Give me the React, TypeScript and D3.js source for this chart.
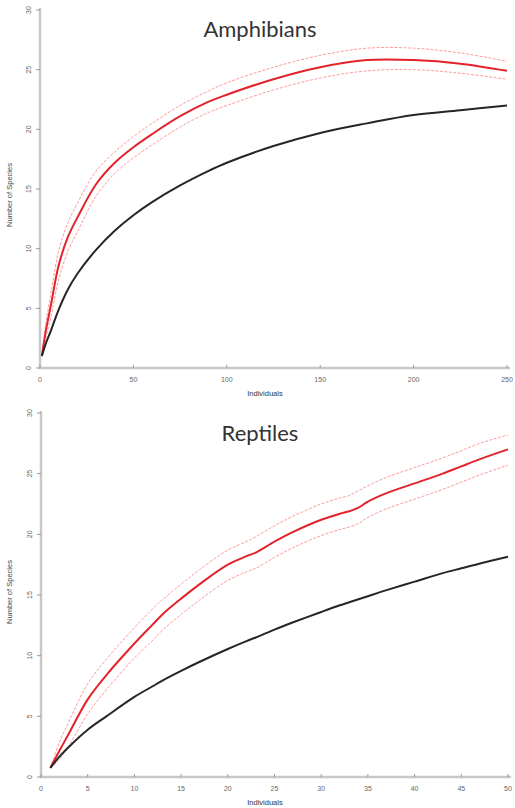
import React from "react";
import * as d3 from "d3";

// ---------- Data ----------
const ampX = [1, 3, 6, 10, 15, 20, 30, 40, 50, 60, 75, 90, 100, 125, 150, 175, 200, 225, 250];
const ampExpected = [1.0, 2.0, 3.2, 4.9, 6.6, 7.9, 9.9, 11.5, 12.8, 13.9, 15.3, 16.5, 17.2, 18.6, 19.7, 20.5, 21.2, 21.6, 22.0];
const ampMean = [1.0, 3.0, 5.4, 8.6, 11.0, 12.6, 15.4, 17.2, 18.5, 19.6, 21.1, 22.3, 22.9, 24.2, 25.2, 25.8, 25.8, 25.5, 24.9];
const ampUpper = [1.0, 3.6, 6.4, 9.8, 12.2, 13.8, 16.5, 18.1, 19.4, 20.5, 22.0, 23.2, 23.9, 25.2, 26.2, 26.8, 26.8, 26.4, 25.7];
const ampLower = [1.0, 2.4, 4.4, 7.4, 9.8, 11.4, 14.4, 16.3, 17.6, 18.7, 20.2, 21.4, 22.0, 23.3, 24.3, 24.9, 25.0, 24.7, 24.2];

const repX = [1, 2, 3, 5, 7, 10, 12, 13, 15, 17, 20, 22, 23, 25, 27, 30, 32, 33, 34, 35, 37, 40, 43, 45, 47, 50];
const repExpected = [0.75, 1.7, 2.5, 3.9, 5.0, 6.6, 7.5, 7.95, 8.75, 9.5, 10.55, 11.2, 11.5, 12.15, 12.75, 13.6, 14.15, 14.4, 14.65, 14.9, 15.4, 16.1, 16.8, 17.2, 17.6, 18.15];
const repMean = [0.75, 2.2, 3.6, 6.4, 8.4, 11.0, 12.6, 13.4, 14.7, 15.9, 17.5, 18.2, 18.5, 19.4, 20.2, 21.2, 21.7, 21.9, 22.2, 22.7, 23.4, 24.2, 25.0, 25.6, 26.2, 27.0];
const repUpper = [0.75, 2.9, 4.6, 7.7, 9.7, 12.3, 13.9, 14.6, 15.9, 17.1, 18.7, 19.4, 19.8, 20.7, 21.5, 22.5, 23.0, 23.2, 23.6, 24.0, 24.7, 25.5, 26.3, 26.9, 27.5, 28.2];
const repLower = [0.75, 1.5, 2.6, 5.2, 7.2, 9.8, 11.3, 12.1, 13.4, 14.6, 16.2, 16.9, 17.2, 18.1, 18.9, 19.9, 20.4, 20.6, 20.9, 21.4, 22.1, 22.9, 23.7, 24.3, 24.9, 25.7];

const ampXTicks = [0, 50, 100, 150, 200, 250];
const repXTicks = [0, 5, 10, 15, 20, 25, 30, 35, 40, 45, 50];
const yTicks = [0, 5, 10, 15, 20, 25, 30];

type PanelProps = {
  title: string;
  titleX: number;
  titleY: number;
  xs: number[];
  expected: number[];
  mean: number[];
  upper: number[];
  lower: number[];
  xDomain: [number, number];
  xRange: [number, number];
  yRange: [number, number];
  xTicks: number[];
  yLabelY: number;
  xLabelY: number;
};

function Panel(p: PanelProps) {
  const x = d3.scaleLinear().domain(p.xDomain).range(p.xRange);
  const y = d3.scaleLinear().domain([0, 30]).range(p.yRange);
  const mk = (vals: number[]) =>
    d3
      .line<number>()
      .x((_, i) => x(p.xs[i]))
      .y((d) => y(d))
      .curve(d3.curveCatmullRom.alpha(0.5))(vals) || "";
  const axisColor = "#c8c8c8";
  const labelColor = "#666";
  const x0 = p.xRange[0];
  const y0 = p.yRange[0];
  return (
    <g>
      <text
        x={p.titleX}
        y={p.titleY}
        textAnchor="middle"
        fontFamily="Lato, 'Open Sans', sans-serif"
        fontSize={22}
        fill="#333"
      >
        {p.title}
      </text>
      {/* axes */}
      <line x1={x0} x2={x0} y1={y(30) - 2} y2={y0 + 1} stroke={axisColor} strokeWidth={2.5} />
      <line x1={x0 - 1} x2={p.xRange[1] + 3} y1={y0} y2={y0} stroke={axisColor} strokeWidth={2.5} />
      {yTicks.map((t) => (
        <g key={"y" + t}>
          <line x1={x0 - 4} x2={x0} y1={y(t)} y2={y(t)} stroke="#999" strokeWidth={1} />
          <text
            transform={`translate(${x0 - 11},${y(t)}) rotate(-90)`}
            textAnchor="middle"
            dominantBaseline="middle"
            fontFamily="'Liberation Sans', Arial, sans-serif"
            fontSize={7}
            fill={labelColor}
          >
            {t}
          </text>
        </g>
      ))}
      {p.xTicks.map((t) => (
        <g key={"x" + t}>
          <line x1={x(t)} x2={x(t)} y1={y0 - 3} y2={y0} stroke="#999" strokeWidth={1} />
          <text
            x={x(t)}
            y={y0 + 14}
            textAnchor="middle"
            fontFamily="'Liberation Sans', Arial, sans-serif"
            fontSize={7}
            fill={labelColor}
          >
            {t}
          </text>
        </g>
      ))}
      <text
        transform={`translate(12,${p.yLabelY}) rotate(-90)`}
        textAnchor="middle"
        fontFamily="'Liberation Sans', Arial, sans-serif"
        fontSize={7.5}
        fill="#444"
      >
        Number of Species
      </text>
      <text
        x={265}
        y={p.xLabelY}
        textAnchor="middle"
        fontFamily="'Liberation Sans', Arial, sans-serif"
        fontSize={7.5}
        fill="#333"
      >
        Individuals
      </text>
      {/* curves */}
      <path d={mk(p.upper)} fill="none" stroke="#ff7070" strokeWidth={1} strokeOpacity={0.7} strokeDasharray="3,1.5" />
      <path d={mk(p.lower)} fill="none" stroke="#ff7070" strokeWidth={1} strokeOpacity={0.7} strokeDasharray="3,1.5" />
      <path d={mk(p.mean)} fill="none" stroke="#e3222b" strokeWidth={2} />
      <path d={mk(p.expected)} fill="none" stroke="#262626" strokeWidth={2} />
    </g>
  );
}

export default function App() {
  return (
    <svg
      width={515}
      height={808}
      style={{ position: "absolute", left: 0, top: 0, background: "#fff" }}
    >
      <rect width={515} height={808} fill="#fff" />
      <Panel
        title="Amphibians"
        titleX={260}
        titleY={37}
        xs={ampX}
        expected={ampExpected}
        mean={ampMean}
        upper={ampUpper}
        lower={ampLower}
        xDomain={[0, 250]}
        xRange={[40, 507]}
        yRange={[368, 10]}
        xTicks={ampXTicks}
        yLabelY={195}
        xLabelY={396}
      />
      <Panel
        title="Reptiles"
        titleX={260}
        titleY={441}
        xs={repX}
        expected={repExpected}
        mean={repMean}
        upper={repUpper}
        lower={repLower}
        xDomain={[0, 50]}
        xRange={[41, 508]}
        yRange={[777, 413]}
        xTicks={repXTicks}
        yLabelY={592}
        xLabelY={805}
      />
    </svg>
  );
}
